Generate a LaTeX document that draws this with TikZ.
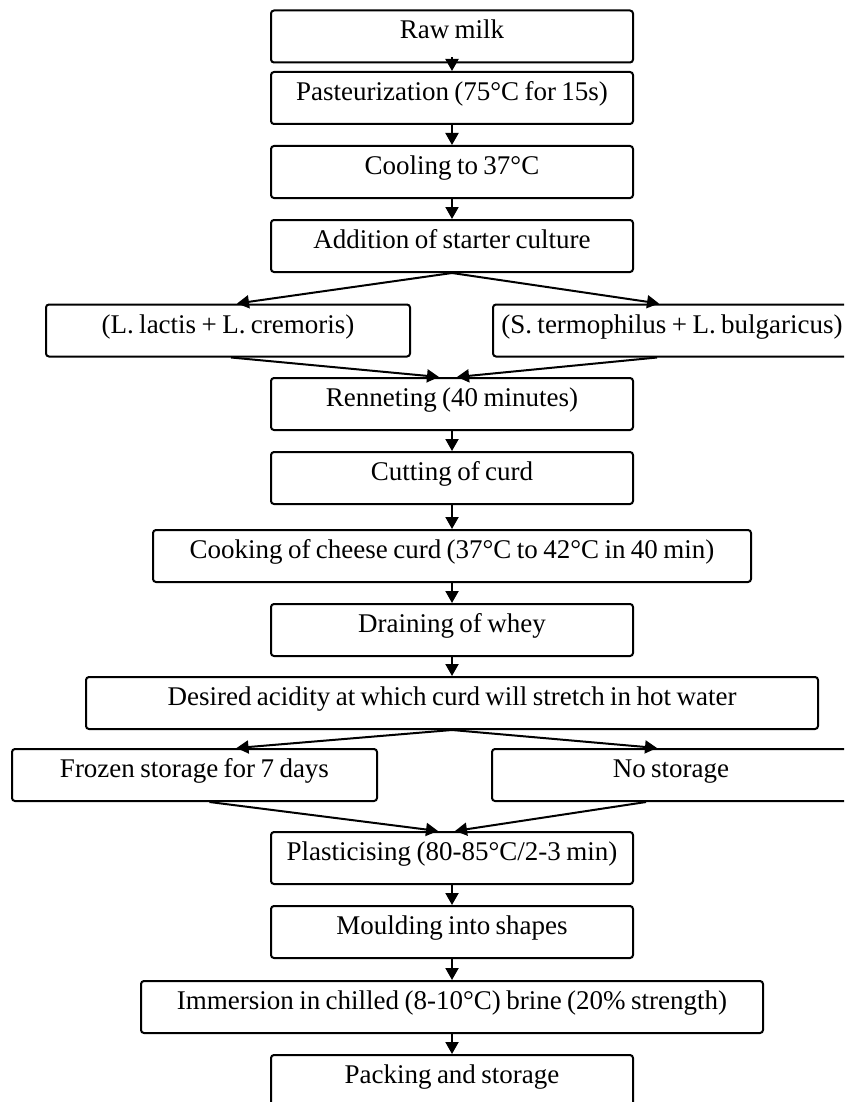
\documentclass[tikz,border=0pt]{standalone}
\usepackage{fontspec}
\setmainfont{Liberation Serif}
\usetikzlibrary{arrows.meta}
\newcommand\myboxfont{\fontsize{27}{30}\selectfont\spaceskip=0.2em plus 0.05em minus 0.05em\relax}
\begin{document}
\begin{tikzpicture}[x=1pt,y=-1pt,
  box/.style={draw=black, line width=2pt, rounded corners=3pt, minimum height=52pt,
    inner sep=0pt, text height=18pt, text depth=13pt, fill=white,
    font=\myboxfont},
  mainbox/.style={box, minimum width=362pt},
  arr/.style={line width=2pt, -{Triangle[length=12pt,width=13pt]}}]
\useasboundingbox (0,0) rectangle (844,1102);
\fill[white] (0,0) rectangle (844,1102);
\clip (0,0) rectangle (844,1102);

\node[mainbox] (raw) at (452,36.5) {Raw milk};
\node[mainbox] (past) at (452,98) {Pasteurization (75°C for 15s)};
\node[mainbox] (cool) at (452,172) {Cooling to 37°C};
\node[mainbox] (add) at (452,246) {Addition of starter culture};
\node[box, minimum width=364pt] (lactis) at (228,330.5) {(L. lactis + L. cremoris)};
\node[box, minimum width=358pt] (sterm) at (672,330.5) {(S. termophilus + L. bulgaricus)};
\node[mainbox] (renn) at (452,404) {Renneting (40 minutes)};
\node[mainbox] (cut) at (452,478) {Cutting of curd};
\node[box, minimum width=598pt] (cook) at (452,556) {Cooking of cheese curd (37°C to 42°C in 40 min)};
\node[mainbox] (drain) at (452,630) {Draining of whey};
\node[box, minimum width=732pt] (des) at (452,703) {Desired acidity at which curd will stretch in hot water};
\node[box, minimum width=365pt] (frozen) at (194.5,775) {Frozen storage for 7 days};
\node[box, minimum width=358pt] (nost) at (671,775) {No storage};
\node[mainbox] (plast) at (452,858) {Plasticising (80-85°C/2-3 min)};
\node[mainbox] (mould) at (452,932) {Moulding into shapes};
\node[box, minimum width=622pt] (imm) at (452,1007) {Immersion in chilled (8-10°C) brine (20\% strength)};
\node[mainbox] (pack) at (452,1081) {Packing and storage};

\draw[arr] ([yshift=6pt]raw.south) -- (past.north);
\draw[arr] (past.south) -- (cool.north);
\draw[arr] (cool.south) -- (add.north);
\draw[arr] (add.south) -- ([xshift=9pt]lactis.north);
\draw[arr] (add.south) -- ([xshift=-13pt]sterm.north);
\draw[arr] ([xshift=3pt]lactis.south) -- ([xshift=-13pt]renn.north);
\draw[arr] ([xshift=-15pt]sterm.south) -- ([xshift=5pt]renn.north);
\draw[arr] (renn.south) -- (cut.north);
\draw[arr] (cut.south) -- (cook.north);
\draw[arr] (cook.south) -- (drain.north);
\draw[arr] (drain.south) -- (des.north);
\draw[arr] (des.south) -- ([xshift=42pt]frozen.north);
\draw[arr] (des.south) -- ([xshift=-14pt]nost.north);
\draw[arr] ([xshift=15pt]frozen.south) -- ([xshift=-14pt]plast.north);
\draw[arr] ([xshift=-25pt]nost.south) -- ([xshift=3pt]plast.north);
\draw[arr] (plast.south) -- (mould.north);
\draw[arr] (mould.south) -- (imm.north);
\draw[arr] (imm.south) -- (pack.north);
\end{tikzpicture}
\end{document}
